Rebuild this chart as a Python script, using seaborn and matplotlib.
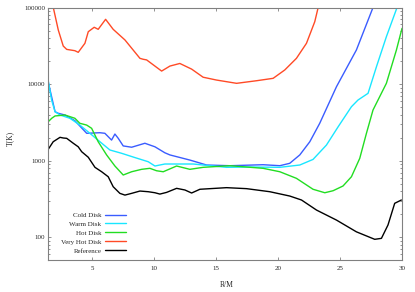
import numpy as np
import pandas as pd
import matplotlib
matplotlib.use("Agg")
import matplotlib.pyplot as plt
import matplotlib.ticker as mticker
import seaborn as sns

# radius (R/M) and temperature (K), one pair of lists per curve
cold_r = [1.45, 2.0, 2.26, 2.8, 3.6, 4.55, 5.62, 6.02, 6.56, 6.83, 7.1, 7.5, 8.18, 9.25, 10.06,
          10.86, 11.27, 12.88, 14.23, 16.11, 18.79, 20.14, 20.94, 21.75, 22.56, 23.36, 24.71,
          26.32, 27.66, 27.8]
cold_t = [10600, 4360, 4160, 3950, 3330, 2280, 2320, 2280, 1860, 2230, 1960, 1560, 1500, 1690, 1520,
          1270, 1190, 1020, 879, 861, 887, 861, 925, 1190, 1770, 3080, 9240,
          27900, 100000, 115000]

warm_r = [1.45, 1.72, 2.0, 2.4, 3.2, 4.0, 4.81, 5.62, 6.43, 7.37, 8.44, 9.52, 10.06, 10.86, 11.27,
          13.15, 14.49, 15.84, 17.72, 20.14, 21.75, 22.82, 23.9, 24.85, 25.92, 26.45, 27.26,
          27.94, 28.74, 29.6, 29.75]
warm_t = [11070, 6200, 4360, 3950, 3580, 2920, 2280, 1770, 1380, 1250, 1100, 970, 853, 906, 906,
          906, 861, 820, 828, 820, 879, 1040, 1600, 2780, 5070, 6200, 7580,
          16900, 41600, 100000, 115000]

hot_r = [1.45, 1.73, 2.0, 2.8, 3.6, 4.0, 4.55, 4.95, 5.48, 6.16, 6.83, 7.5, 8.18, 8.98, 9.65,
         10.19, 10.73, 11.81, 12.88, 13.95, 16.11, 18.79, 20.14, 21.48, 22.82, 23.77, 24.44,
         25.24, 25.92, 26.59, 27.13, 27.66, 28.74, 29.55, 30.0]
hot_t = [3230, 3580, 3840, 3950, 3580, 3080, 2920, 2650, 1770, 1190, 853, 651, 718, 772, 796,
         740, 718, 853, 772, 820, 861, 796, 718, 589, 424, 382, 406,
         468, 618, 1074, 2280, 4590, 10240, 27900, 53400]

vhot_r = [1.8, 2.26, 2.66, 2.94, 3.6, 3.87, 4.41, 4.68, 5.16, 5.48, 6.08, 6.69, 7.64, 8.85, 9.11,
          9.39, 10.6, 11.27, 12.07, 13.02, 13.95, 15.03, 16.65, 18.26, 19.6, 20.54, 21.48,
          22.29, 22.96, 23.35]
vhot_t = [110000, 50800, 31400, 28400, 27300, 26000, 34100, 48300, 55200, 51900, 70100, 51900, 37700, 21700, 21100,
          20700, 14800, 17200, 18600, 15700, 12300, 11300, 10240, 11070, 11900, 15300, 21700,
          34100, 65300, 120000]

ref_r = [1.45, 1.85, 2.4, 2.66, 2.94, 3.47, 3.87, 4.15, 4.68, 5.22, 5.76, 6.29, 6.69, 7.23, 7.64,
         8.18, 8.85, 9.52, 10.06, 10.46, 11.0, 11.81, 12.48, 13.02, 13.69, 15.84, 17.45,
         19.33, 20.94, 21.89, 23.1, 24.71, 26.32, 27.8, 28.34, 28.87, 29.41, 29.95]
ref_t = [1410, 1770, 2020, 1980, 1960, 1690, 1520, 1310, 1110, 820, 718, 618, 458, 375, 356,
         375, 402, 394, 382, 367, 386, 436, 415, 379, 424, 445, 432,
         394, 346, 307, 227, 168, 118, 94.2, 97, 145, 278, 307]

labels = ["Cold Disk", "Warm Disk", "Hot Disk", "Very Hot Disk", "Reference"]
colors = ["#3a5cff", "#19e6ff", "#22dd22", "#ff4a26", "#000000"]

series = [(cold_r, cold_t), (warm_r, warm_t), (hot_r, hot_t), (vhot_r, vhot_t), (ref_r, ref_t)]
df = pd.concat(
    [pd.DataFrame({"R": r, "T": t, "disk": name}) for name, (r, t) in zip(labels, series)],
    ignore_index=True,
)

sns.set_style("ticks")
plt.rcParams["font.family"] = ["Liberation Serif", "DejaVu Serif"]

fig = plt.figure(figsize=(4.15, 2.92), dpi=100)
ax = fig.add_axes([48 / 415, 1 - 260 / 292, 354 / 415, 252.5 / 292])

sns.lineplot(data=df, x="R", y="T", hue="disk", hue_order=labels,
             palette=dict(zip(labels, colors)), sort=False, estimator=None,
             linewidth=1.0, ax=ax)

ax.set_yscale("log")
ax.set_xlim(1.43, 30)
ax.set_ylim(50.6, 100000)

ax.xaxis.set_major_locator(mticker.FixedLocator([5, 10, 15, 20, 25, 30]))
ax.yaxis.set_major_locator(mticker.FixedLocator([100, 1000, 10000, 100000]))
ax.yaxis.set_major_formatter(mticker.FixedFormatter(["100", "1000", "10000", "100000"]))
ax.yaxis.set_minor_locator(mticker.LogLocator(base=10, subs=np.arange(2, 10)))
ax.yaxis.set_minor_formatter(mticker.NullFormatter())

for s in ax.spines.values():
    s.set_color("#808080")
    s.set_linewidth(0.8)
ax.tick_params(which="both", direction="in", top=True, right=True, color="#808080",
               labelsize=5, width=0.6)
ax.tick_params(which="major", length=2.5)
ax.tick_params(which="minor", length=1.5)
ax.tick_params(axis="x", pad=4)
ax.tick_params(axis="y", pad=2)

ax.set_xlabel("R/M", fontsize=5.5)
ax.set_ylabel("T(K)", fontsize=5.5)
ax.xaxis.set_label_coords(0.506, -0.085)
ax.yaxis.set_label_coords(-0.095, 0.48)

leg = ax.legend(loc="lower right", bbox_to_anchor=(0.235, 0.005), frameon=False,
                markerfirst=False, fontsize=5, handlelength=3.0, handletextpad=0.6,
                labelspacing=0.45, borderpad=0.2)

fig.savefig("out.png", dpi=100)
